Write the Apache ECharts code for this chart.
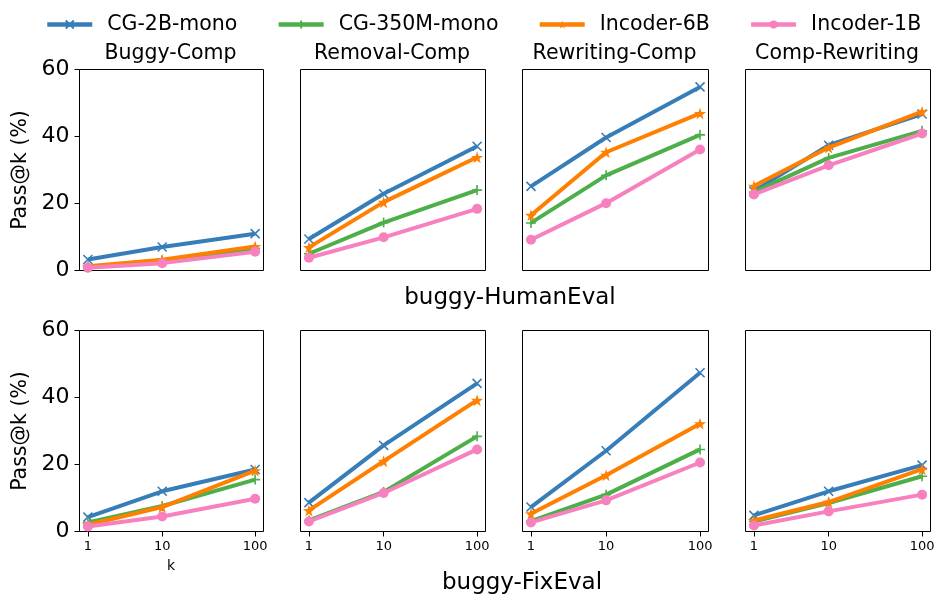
<!DOCTYPE html>
<html>
<head>
<meta charset="utf-8">
<script src="https://cdn.jsdelivr.net/npm/echarts@6/dist/echarts.min.js"></script>
<style>
  html, body { margin: 0; padding: 0; background: #fff; }
  #chart { width: 944px; height: 606px; }
</style>
</head>
<body>
<div id="chart"></div>
<script>
// Values
const kValues = [1, 10, 100];
const yTicks = [0, 20, 40, 60];
const panelTitles = ['Buggy-Comp', 'Removal-Comp', 'Rewriting-Comp', 'Comp-Rewriting'];
const rowLabels = ['buggy-HumanEval', 'buggy-FixEval'];
const modelNames = ['CG-2B-mono', 'CG-350M-mono', 'Incoder-6B', 'Incoder-1B'];

// one entry per panel, values at k = 1, 10, 100
const cg2bHumanEval = [[3.3, 7.0, 11.0], [9.4, 22.9, 37.1], [25.1, 39.7, 54.8], [23.7, 37.4, 46.7]];
const cg2bFixEval = [[4.3, 12.0, 18.5], [8.6, 25.7, 44.2], [7.3, 24.1, 47.4], [4.8, 12.0, 19.8]];
const cg350mHumanEval = [[1.0, 3.0, 6.6], [5.0, 14.3, 24.0], [14.2, 28.4, 40.5], [23.4, 33.6, 41.7]];
const cg350mFixEval = [[2.7, 7.6, 15.5], [3.3, 11.8, 28.4], [3.1, 11.0, 24.5], [3.0, 8.5, 16.5]];
const incoder6bHumanEval = [[1.3, 3.2, 7.2], [6.9, 20.4, 33.8], [16.5, 35.3, 46.9], [25.2, 36.7, 47.4]];
const incoder6bFixEval = [[2.0, 7.3, 18.2], [6.3, 21.0, 39.2], [5.3, 16.8, 32.2], [3.3, 8.8, 18.6]];
const incoder1bHumanEval = [[0.8, 2.2, 5.6], [3.8, 9.9, 18.4], [9.2, 20.1, 36.1], [22.7, 31.4, 40.9]];
const incoder1bFixEval = [[1.5, 4.5, 9.8], [3.0, 11.5, 24.5], [2.7, 9.3, 20.6], [1.8, 6.0, 11.0]];

const font = 'DejaVu Sans';

// Model styles (colour, marker)
const modelStyles = [
  { color: '#377eb8', symbol: 'path://M0,0L10,10M10,0L0,10', size: 9, border: 1.6, rows: [cg2bHumanEval, cg2bFixEval] },
  { color: '#4daf4a', symbol: 'path://M5,0L5,10M0,5L10,5', size: 10, border: 1.6, rows: [cg350mHumanEval, cg350mFixEval] },
  { color: '#ff7f00', symbol: 'path://M50,0L61,35L98,35L68,57L79,91L50,70L21,91L32,57L2,35L39,35Z', size: 12, border: 0, rows: [incoder6bHumanEval, incoder6bFixEval] },
  { color: '#f781bf', symbol: 'circle', size: 10, border: 0, rows: [incoder1bHumanEval, incoder1bFixEval] }
];

// x scale used by the figure: k spacing slightly compressed between 1 and 10
function xScale(k) {
  return Math.pow(k, 0.097);
}

function kLabel(v) {
  const k = kValues.find(k => Math.abs(xScale(k) - v) < 1e-9);
  return k === undefined ? '' : String(k);
}

// half-pixel offsets keep the 1px frame crisp
const colLeft = [79.5, 300.5, 522.5, 745.5];
const colWidth = [184, 185, 186, 185];
const rowTop = [69.5, 330.5];
const rowHeight = 201;

const grids = [];
const xAxes = [];
const yAxes = [];
const series = [];
const graphics = [];

for (let r = 0; r < 2; r++) {
  for (let c = 0; c < 4; c++) {
    const gi = grids.length;
    const bottomRow = r === 1;
    const firstCol = c === 0;

    grids.push({
      left: colLeft[c], top: rowTop[r], width: colWidth[c], height: rowHeight,
      show: true, borderColor: '#000', borderWidth: 1, backgroundColor: 'transparent'
    });

    xAxes.push({
      type: 'value', gridIndex: gi,
      min: v => v.min - 0.05 * (v.max - v.min),
      max: v => v.max + 0.05 * (v.max - v.min),
      splitLine: { show: false },
      axisLine: { show: false },
      axisTick: { show: bottomRow, customValues: kValues.map(xScale), length: 5, lineStyle: { color: '#000', width: 1 } },
      axisLabel: {
        show: bottomRow, customValues: kValues.map(xScale), formatter: kLabel,
        fontFamily: font, fontSize: 13, color: '#000', margin: 9
      }
    });

    yAxes.push({
      type: 'value', gridIndex: gi, min: yTicks[0], max: yTicks[yTicks.length - 1], interval: 20,
      splitLine: { show: false },
      axisLine: { show: false },
      axisTick: { show: firstCol, length: 5, lineStyle: { color: '#000', width: 1 } },
      axisLabel: { show: firstCol, fontFamily: font, fontSize: 22, color: '#000', margin: 10 }
    });

    modelStyles.forEach((m, mi) => {
      series.push({
        name: modelNames[mi],
        type: 'line',
        xAxisIndex: gi, yAxisIndex: gi,
        data: kValues.map((k, i) => [xScale(k), m.rows[r][c][i]]),
        symbol: m.symbol,
        symbolSize: m.size,
        showSymbol: true,
        lineStyle: { color: m.color, width: 4 },
        itemStyle: { color: m.color, borderColor: m.color, borderWidth: m.border },
        emphasis: { disabled: true },
        z: 2 + mi
      });
    });

    if (r === 0) {
      graphics.push({
        type: 'text', x: colLeft[c] + colWidth[c] / 2 - 1, y: 54,
        style: { text: panelTitles[c], font: '20.5px "DejaVu Sans"', fill: '#000', textAlign: 'center', textVerticalAlign: 'middle' }
      });
    }
  }
  graphics.push({
    type: 'text', x: 21, y: rowTop[r] + rowHeight / 2, rotation: Math.PI / 2,
    style: { text: 'Pass@k (%)', font: '20.5px "DejaVu Sans"', fill: '#000', textAlign: 'center', textVerticalAlign: 'middle' }
  });
}

graphics.push({
  type: 'text', x: 510, y: 298,
  style: { text: rowLabels[0], font: '23px "DejaVu Sans"', fill: '#000', textAlign: 'center', textVerticalAlign: 'middle' }
});
graphics.push({
  type: 'text', x: 522, y: 583,
  style: { text: rowLabels[1], font: '23px "DejaVu Sans"', fill: '#000', textAlign: 'center', textVerticalAlign: 'middle' }
});
graphics.push({
  type: 'text', x: 171, y: 566,
  style: { text: 'k', font: '14px "DejaVu Sans"', fill: '#000', textAlign: 'center', textVerticalAlign: 'middle' }
});

const chart = echarts.init(document.getElementById('chart'), null, { renderer: 'canvas' });
chart.setOption({
  animation: false,
  backgroundColor: '#fff',
  legend: {
    data: modelNames,
    left: 45, top: 14,
    padding: 0,
    itemGap: 39,
    itemWidth: 45, itemHeight: 10,
    lineStyle: { width: 4.5 },
    textStyle: { fontFamily: font, fontSize: 20.5, color: '#000', padding: [0, 0, 0, 10] }
  },
  grid: grids,
  xAxis: xAxes,
  yAxis: yAxes,
  series: series,
  graphic: graphics
});
</script>
</body>
</html>
